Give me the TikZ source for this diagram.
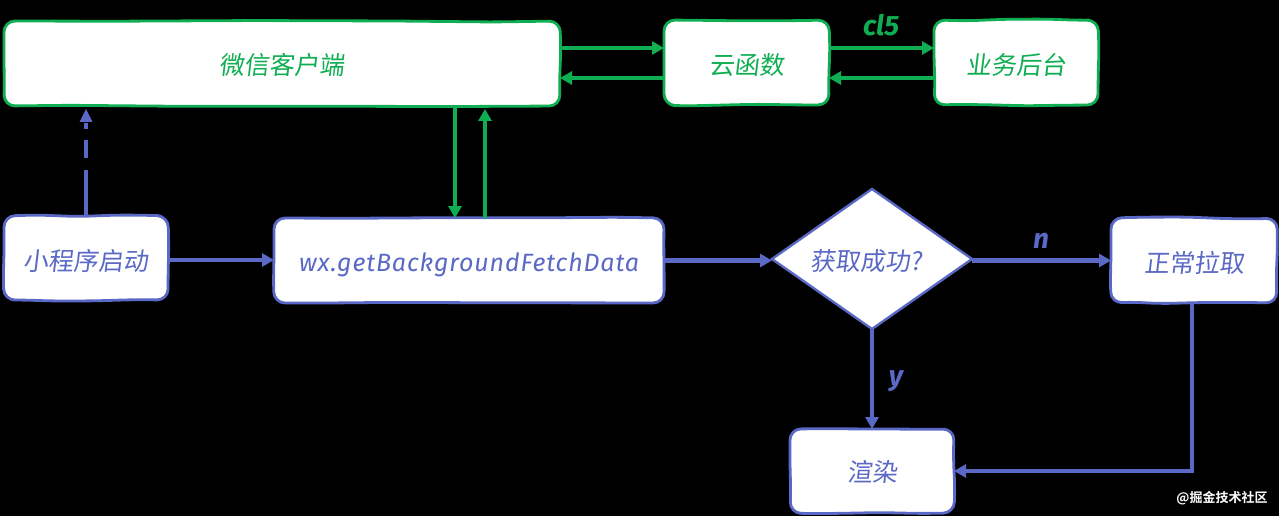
\documentclass[tikz,border=0pt]{standalone}
\usepackage{fontspec}
\setmainfont{Fira Sans}[ItalicFont=* Italic,BoldItalicFont=* Bold Italic]
\newfontfamily\cjk[FakeSlant=0.12]{Noto Sans CJK SC}
\newfontfamily\wmfont{Noto Sans CJK SC Bold}
\usetikzlibrary{arrows.meta,shapes.geometric,calc}
\pgfdeclarelayer{bg}
\pgfsetlayers{bg,main}
\definecolor{gr}{HTML}{0FAE52}
\definecolor{bl}{HTML}{5A68C6}
\pgfmathsetseed{7}
\tikzset{
  box/.style={inner sep=0pt,outer sep=0pt,text height=24pt,text depth=0pt,font=\fontsize{25}{28}\selectfont\cjk},
  gbox/.style={box,text=gr},
  bbox/.style={box,text=bl},
  sk/.style={fill=white,line width=2.8pt,rounded corners=11pt},
  garr/.style={draw=gr,line width=4.6pt,-{Triangle[length=12pt,width=13pt]}},
  barr/.style={draw=bl,line width=4.6pt,-{Triangle[length=12pt,width=13pt]}},
  lab/.style={font=\fontsize{28}{30}\selectfont\bfseries\itshape},
}
\newcommand\wb{{rand*1.0}}
\newcommand\sk[2]{\begin{pgfonlayer}{bg}\draw[sk,draw=#2]
  (#1.west) -- (#1.north west)
  -- ($(#1.north west)!.2!(#1.north east)+(0,\wb)$)
  -- ($(#1.north west)!.45!(#1.north east)+(0,\wb)$)
  -- ($(#1.north west)!.7!(#1.north east)+(0,\wb)$)
  -- ($(#1.north west)!.88!(#1.north east)+(0,\wb)$)
  -- (#1.north east)
  -- ($(#1.north east)!.35!(#1.south east)+(\wb,0)$)
  -- ($(#1.north east)!.7!(#1.south east)+(\wb,0)$)
  -- (#1.south east)
  -- ($(#1.south east)!.2!(#1.south west)+(0,\wb)$)
  -- ($(#1.south east)!.45!(#1.south west)+(0,\wb)$)
  -- ($(#1.south east)!.7!(#1.south west)+(0,\wb)$)
  -- ($(#1.south east)!.88!(#1.south west)+(0,\wb)$)
  -- (#1.south west)
  -- ($(#1.south west)!.3!(#1.north west)+(\wb,0)$)
  -- cycle;\end{pgfonlayer}}
\begin{document}
\begin{tikzpicture}[x=1pt,y=-1pt]
\begin{pgfonlayer}{bg}
\useasboundingbox[fill=black] (0,0) rectangle (1279,516);
\end{pgfonlayer}
\node[gbox,text height=22pt,minimum width=556pt,minimum height=85pt] (client) at (282,63.5) {微信客户端};
\node[gbox,minimum width=165pt,minimum height=85pt] (yun) at (746.5,62.5) {云函数};
\node[gbox,minimum width=164pt,minimum height=85pt] (biz) at (1016,62.5) {业务后台};
\node[bbox,text height=25pt,minimum width=164pt,minimum height=84pt] (start) at (86,258) {小程序启动};
\node[bbox,text height=21pt,minimum width=390pt,minimum height=85pt] (wx) at (469,260.5) {\fontsize{25}{28}\selectfont\rmfamily\itshape\addfontfeature{LetterSpace=3.4}wx.getBackgroundFetchData};
\node[draw=bl,fill=white,text=bl,line width=2.4pt,diamond,shape aspect=1.43,inner sep=0pt,outer sep=0pt,minimum width=200pt,minimum height=140pt,text height=23pt,text depth=0pt,font=\fontsize{25}{28}\selectfont\cjk] (ok) at (872,259) {\hspace{-12pt}获取成功?};
\node[bbox,minimum width=166pt,minimum height=85pt] (fetch) at (1194,260.5) {正常拉取};
\node[bbox,text height=21pt,minimum width=164pt,minimum height=84pt] (render) at (872,471) {渲染};
\sk{client}{gr}\sk{yun}{gr}\sk{biz}{gr}\sk{start}{bl}\sk{wx}{bl}\sk{fetch}{bl}\sk{render}{bl}

\draw[garr] ([yshift=15.5pt]client.east) -- ([yshift=14.5pt]yun.west);
\draw[garr] ([yshift=-15.5pt]yun.west) -- ([yshift=-14.5pt]client.east);
\draw[garr] ([yshift=14.5pt]yun.east) -- ([yshift=14.5pt]biz.west);
\draw[garr] ([yshift=-15.5pt]biz.west) -- ([yshift=-15.5pt]yun.east);
\draw[garr] ([xshift=173pt,yshift=-2pt]client.south) -- ([xshift=-14pt]wx.north);
\draw[garr] ([xshift=16pt]wx.north) -- ([xshift=203pt,yshift=-3pt]client.south);
\draw[bl,line width=4.6pt,dash pattern=on 46pt off 12pt on 18pt off 11pt on 8pt off 10pt] (start.north) -- ([xshift=-196pt,yshift=-17pt]client.south);
\fill[bl] ([xshift=-196pt,yshift=-3pt]client.south) -- ++(-6.5,13) -- ++(13,0) -- cycle;
\draw[barr] ([yshift=-2pt]start.east) -- ([yshift=-2pt]start.east -| wx.west);
\draw[barr] (wx.east) -- (wx.east -| ok.west);
\draw[barr] (ok.east |- fetch.west) -- (fetch.west);
\draw[barr] (ok.south) -- (render.north);
\draw[barr] ([xshift=-2pt]fetch.south) -- ([xshift=-2pt]fetch.south |- render.east) -- (render.east);

\node[lab,text=gr] (cl) at (881,25) {cl5};
\node[lab,text=bl] (n) at (1041,241) {n};
\node[lab,text=bl] (y) at (896,381) {y};
\node[text=white,font=\fontsize{13}{14}\selectfont\wmfont,inner sep=0pt] (wm) at (1222,498) {@掘金技术社区};
\end{tikzpicture}
\end{document}
